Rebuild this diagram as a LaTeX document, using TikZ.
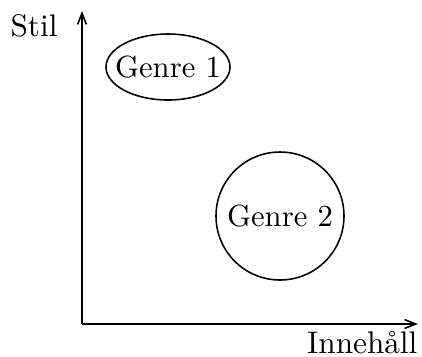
\documentclass[tikz,border=0pt]{standalone}
\usetikzlibrary{arrows.meta}
\begin{document}
\begin{tikzpicture}[x=0.32pt,y=-0.32pt,
  axis/.style={line width=0.5pt,-{Straight Barb[length=3.6pt,width=2.8pt,line width=0.5pt]}},
  shapeline/.style={line width=0.5pt},
  genre/.style={inner sep=0pt,font=\fontsize{9.8}{12}\selectfont},
  lbl/.style={inner sep=0pt,font=\fontsize{10}{12}\selectfont}]
\useasboundingbox (0,0) rectangle (422,356);
\coordinate (O) at (82,324);
\coordinate (Y) at (82,11);
\coordinate (X) at (418,324);
\draw[axis] (O) -- (Y);
\draw[axis] (O) -- (X);
\node[lbl,anchor=base] (stil) at (34,36) {Stil};
\node[lbl,anchor=base east] (inn) at (418,353) {Innehåll};
\node[genre] (g1) at (168,67) {Genre 1};
\draw[shapeline] (g1.center) ellipse [x radius=62, y radius=33];
\node[genre] (g2) at (280,216) {Genre 2};
\draw[shapeline] (g2.center) circle [radius=64];
\end{tikzpicture}
\end{document}
